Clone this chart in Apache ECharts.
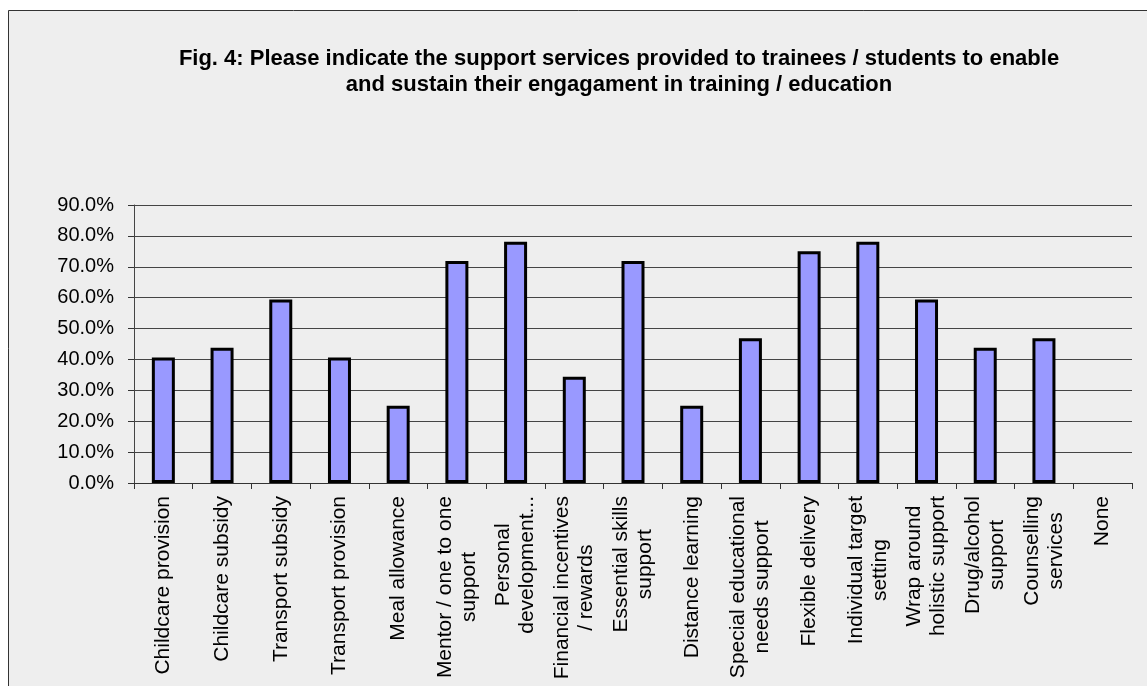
<!DOCTYPE html>
<html>
<head>
<meta charset="utf-8">
<script src="https://cdn.jsdelivr.net/npm/echarts@6/dist/echarts.min.js"></script>
<style>
  html, body { margin: 0; padding: 0; background: #fff; }
  #chart { width: 1147px; height: 686px; }
</style>
</head>
<body>
<div id="chart"></div>
<script>
const titleText = 'Fig. 4: Please indicate the support services provided to trainees / students to enable\nand sustain their engagament in training / education'

const categories = [
  'Childcare provision',
  'Childcare subsidy',
  'Transport subsidy',
  'Transport provision',
  'Meal allowance',
  'Mentor / one to one\nsupport',
  'Personal\ndevelopment...',
  'Financial incentives\n/ rewards',
  'Essential skills\nsupport',
  'Distance learning',
  'Special educational\nneeds support',
  'Flexible delivery',
  'Individual target\nsetting',
  'Wrap around\nholistic support',
  'Drug/alcohol\nsupport',
  'Counselling\nservices',
  'None'
]

// percent of respondents
const values = [40.6, 43.8, 59.4, 40.6, 25.0, 71.9, 78.1, 34.4, 71.9, 25.0, 46.9, 75.0, 78.1, 59.4, 43.8, 46.9, 0]

const yTicks = [0, 10, 20, 30, 40, 50, 60, 70, 80, 90]

const myChart = echarts.init(document.getElementById('chart'))
const option = {
  animation: false,
  textStyle: { fontFamily: 'Liberation Sans, Arial, sans-serif' },
  graphic: [
    {
      type: 'rect',
      z: -10,
      shape: { x: 8.5, y: 10.5, width: 1160, height: 700 },
      style: { fill: '#eeeeee', stroke: '#333', lineWidth: 1 }
    },
    {
      type: 'text',
      x: 619,
      y: 46,
      style: {
        text: titleText,
        align: 'center',
        verticalAlign: 'top',
        font: 'bold 22px "Liberation Sans", Arial, sans-serif',
        lineHeight: 26,
        fill: '#000'
      }
    }
  ],
  grid: {
    top: 205,
    bottom: 203,
    left: 134,
    right: 15
  },
  xAxis: {
    type: 'category',
    data: categories,
    axisLine: { lineStyle: { color: '#333', width: 1 } },
    axisTick: { show: true, length: 6, lineStyle: { color: '#333' } },
    axisLabel: {
      interval: 0,
      rotate: 90,
      margin: 13,
      color: '#000',
      fontSize: 21,
      formatter: val => val.split('\n').map(s => `{c|${s}}`).join('\n'),
      rich: {
        c: { align: 'center', fontSize: 21, lineHeight: 24, color: '#000' }
      }
    }
  },
  yAxis: {
    type: 'value',
    min: yTicks[0],
    max: yTicks[yTicks.length - 1],
    interval: 10,
    axisLine: { show: true, lineStyle: { color: '#444' } },
    axisTick: { show: true, length: 6, lineStyle: { color: '#333' } },
    splitLine: { lineStyle: { color: '#444', width: 1.2 } },
    axisLabel: {
      margin: 20,
      color: '#000',
      fontSize: 20,
      formatter: v => v.toFixed(1) + '%'
    }
  },
  series: [{
    type: 'bar',
    barWidth: 23,
    data: values.map(v => v === 0 ? { value: v, itemStyle: { borderWidth: 0 } } : v),
    itemStyle: {
      color: '#9999ff',
      borderColor: '#000',
      borderWidth: 3
    }
  }]
}
myChart.setOption(option)
</script>
</body>
</html>
